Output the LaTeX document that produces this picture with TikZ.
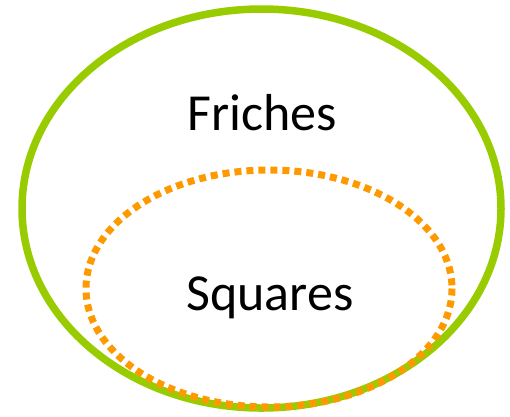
\documentclass[tikz,border=0pt]{standalone}
\usepackage{fontspec}
\setmainfont{Carlito}
\definecolor{lgreen}{HTML}{99CC00}
\definecolor{lorange}{HTML}{FF9900}
\tikzset{
  outerset/.style={draw=lgreen, line width=7.5pt},
  innerset/.style={draw=lorange, line width=7pt, dash pattern=on 7pt off 5pt},
  lbl/.style={font=\fontsize{52}{62}\selectfont, anchor=base, inner sep=0pt}
}
\begin{document}
\begin{tikzpicture}[x=1pt,y=-1pt]
\useasboundingbox (0,0) rectangle (510,416);
\draw[outerset] (261.5,208.5) ellipse [x radius=239.5, y radius=199.5];
\draw[innerset] (269,288.5) ellipse [x radius=183, y radius=118.5];
\node[lbl] (friches) at (262,130) {Friches};
\node[lbl] (squares) at (270,310) {Squares};
\end{tikzpicture}
\end{document}
